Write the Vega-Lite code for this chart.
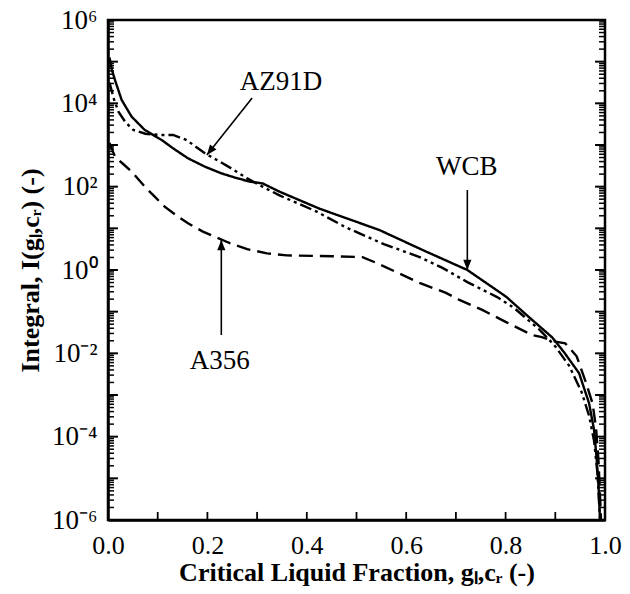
{
  "$schema": "https://vega.github.io/schema/vega-lite/v6.json",
  "width": 497,
  "height": 500,
  "autosize": {"type": "none"},
  "padding": {"left": 108, "top": 20, "right": 25, "bottom": 74},
  "background": "white",
  "config": {
    "view": {"stroke": "black", "strokeWidth": 2.5},
    "font": "Liberation Serif",
    "axis": {"grid": false, "ticks": false, "domainColor": "black", "domainWidth": 2.5}
  },
  "datasets": {
    "curves": [
      {"series": "WCB", "g": 0.003, "I": 125900},
      {"series": "WCB", "g": 0.008, "I": 63100},
      {"series": "WCB", "g": 0.014, "I": 36300},
      {"series": "WCB", "g": 0.0275, "I": 12020},
      {"series": "WCB", "g": 0.0475, "I": 4786},
      {"series": "WCB", "g": 0.074, "I": 2291},
      {"series": "WCB", "g": 0.108, "I": 1318},
      {"series": "WCB", "g": 0.131, "I": 832},
      {"series": "WCB", "g": 0.161, "I": 479},
      {"series": "WCB", "g": 0.195, "I": 302},
      {"series": "WCB", "g": 0.228, "I": 209},
      {"series": "WCB", "g": 0.255, "I": 166},
      {"series": "WCB", "g": 0.285, "I": 132},
      {"series": "WCB", "g": 0.311, "I": 120},
      {"series": "WCB", "g": 0.345, "I": 75.9},
      {"series": "WCB", "g": 0.426, "I": 29.5},
      {"series": "WCB", "g": 0.546, "I": 9.12},
      {"series": "WCB", "g": 0.633, "I": 3.02},
      {"series": "WCB", "g": 0.723, "I": 1.0},
      {"series": "WCB", "g": 0.801, "I": 0.229},
      {"series": "WCB", "g": 0.847, "I": 0.0741},
      {"series": "WCB", "g": 0.894, "I": 0.024},
      {"series": "WCB", "g": 0.918, "I": 0.01047},
      {"series": "WCB", "g": 0.948, "I": 0.00331},
      {"series": "WCB", "g": 0.968, "I": 0.000631},
      {"series": "WCB", "g": 0.978, "I": 0.000145},
      {"series": "WCB", "g": 0.983, "I": 3.16e-5},
      {"series": "WCB", "g": 0.987, "I": 6.31e-6},
      {"series": "WCB", "g": 0.99, "I": 1e-6},

      {"series": "AZ91D", "g": 0.003, "I": 31600},
      {"series": "AZ91D", "g": 0.012, "I": 12590},
      {"series": "AZ91D", "g": 0.021, "I": 6310},
      {"series": "AZ91D", "g": 0.035, "I": 3548},
      {"series": "AZ91D", "g": 0.051, "I": 2291},
      {"series": "AZ91D", "g": 0.075, "I": 1862},
      {"series": "AZ91D", "g": 0.104, "I": 1738},
      {"series": "AZ91D", "g": 0.131, "I": 1738},
      {"series": "AZ91D", "g": 0.158, "I": 1318},
      {"series": "AZ91D", "g": 0.195, "I": 631},
      {"series": "AZ91D", "g": 0.225, "I": 398},
      {"series": "AZ91D", "g": 0.248, "I": 275},
      {"series": "AZ91D", "g": 0.28, "I": 158},
      {"series": "AZ91D", "g": 0.311, "I": 100},
      {"series": "AZ91D", "g": 0.345, "I": 61.7},
      {"series": "AZ91D", "g": 0.386, "I": 38.0},
      {"series": "AZ91D", "g": 0.42, "I": 25.1},
      {"series": "AZ91D", "g": 0.479, "I": 10.5},
      {"series": "AZ91D", "g": 0.555, "I": 4.17},
      {"series": "AZ91D", "g": 0.627, "I": 2.04},
      {"series": "AZ91D", "g": 0.673, "I": 1.122},
      {"series": "AZ91D", "g": 0.723, "I": 0.513},
      {"series": "AZ91D", "g": 0.783, "I": 0.224},
      {"series": "AZ91D", "g": 0.817, "I": 0.123},
      {"series": "AZ91D", "g": 0.867, "I": 0.038},
      {"series": "AZ91D", "g": 0.898, "I": 0.0158},
      {"series": "AZ91D", "g": 0.928, "I": 0.00501},
      {"series": "AZ91D", "g": 0.953, "I": 0.00117},
      {"series": "AZ91D", "g": 0.968, "I": 0.000316},
      {"series": "AZ91D", "g": 0.978, "I": 7.94e-5},
      {"series": "AZ91D", "g": 0.985, "I": 1.26e-5},
      {"series": "AZ91D", "g": 0.99, "I": 1e-6},

      {"series": "A356", "g": 0.003, "I": 1122},
      {"series": "A356", "g": 0.014, "I": 525},
      {"series": "A356", "g": 0.03, "I": 355},
      {"series": "A356", "g": 0.05, "I": 214},
      {"series": "A356", "g": 0.074, "I": 100},
      {"series": "A356", "g": 0.094, "I": 57.5},
      {"series": "A356", "g": 0.114, "I": 33.1},
      {"series": "A356", "g": 0.141, "I": 19.05},
      {"series": "A356", "g": 0.161, "I": 13.2},
      {"series": "A356", "g": 0.191, "I": 8.32},
      {"series": "A356", "g": 0.215, "I": 6.31},
      {"series": "A356", "g": 0.242, "I": 4.57},
      {"series": "A356", "g": 0.28, "I": 3.16},
      {"series": "A356", "g": 0.32, "I": 2.51},
      {"series": "A356", "g": 0.36, "I": 2.24},
      {"series": "A356", "g": 0.45, "I": 2.14},
      {"series": "A356", "g": 0.512, "I": 2.04},
      {"series": "A356", "g": 0.54, "I": 1.48},
      {"series": "A356", "g": 0.58, "I": 0.891},
      {"series": "A356", "g": 0.627, "I": 0.49},
      {"series": "A356", "g": 0.68, "I": 0.282},
      {"series": "A356", "g": 0.707, "I": 0.191},
      {"series": "A356", "g": 0.753, "I": 0.11},
      {"series": "A356", "g": 0.801, "I": 0.0562},
      {"series": "A356", "g": 0.853, "I": 0.0275},
      {"series": "A356", "g": 0.873, "I": 0.0245},
      {"series": "A356", "g": 0.9, "I": 0.0191},
      {"series": "A356", "g": 0.92, "I": 0.0174},
      {"series": "A356", "g": 0.943, "I": 0.00851},
      {"series": "A356", "g": 0.961, "I": 0.00209},
      {"series": "A356", "g": 0.975, "I": 0.000631},
      {"series": "A356", "g": 0.982, "I": 0.000158},
      {"series": "A356", "g": 0.987, "I": 2.51e-5},
      {"series": "A356", "g": 0.99, "I": 3.98e-6},
      {"series": "A356", "g": 0.992, "I": 1e-6}
    ],
    "labels": [
      {"label": "AZ91D", "g": 0.348, "I": 32400},
      {"label": "WCB", "g": 0.722, "I": 295},
      {"label": "A356", "g": 0.225, "I": 0.0066}
    ],
    "arrows": [
      {"label": "AZ91D", "g0": 0.29, "I0": 13490, "g1": 0.199, "I1": 575},
      {"label": "WCB", "g0": 0.723, "I0": 83.2, "g1": 0.723, "I1": 1.0},
      {"label": "A356", "g0": 0.228, "I0": 0.0275, "g1": 0.228, "I1": 5.25}
    ],
    "decadeTicks": [
      {"t": 1e-5}, {"t": 1e-4}, {"t": 1e-3}, {"t": 1e-2}, {"t": 1e-1}, {"t": 1},
      {"t": 10}, {"t": 100}, {"t": 1000}, {"t": 1e4}, {"t": 1e5}
    ],
    "minorTicks": [
      {"t": 2e-6}, {"t": 3e-6}, {"t": 4e-6}, {"t": 5e-6}, {"t": 6e-6}, {"t": 7e-6}, {"t": 8e-6}, {"t": 9e-6},
      {"t": 2e-5}, {"t": 3e-5}, {"t": 4e-5}, {"t": 5e-5}, {"t": 6e-5}, {"t": 7e-5}, {"t": 8e-5}, {"t": 9e-5},
      {"t": 2e-4}, {"t": 3e-4}, {"t": 4e-4}, {"t": 5e-4}, {"t": 6e-4}, {"t": 7e-4}, {"t": 8e-4}, {"t": 9e-4},
      {"t": 2e-3}, {"t": 3e-3}, {"t": 4e-3}, {"t": 5e-3}, {"t": 6e-3}, {"t": 7e-3}, {"t": 8e-3}, {"t": 9e-3},
      {"t": 2e-2}, {"t": 3e-2}, {"t": 4e-2}, {"t": 5e-2}, {"t": 6e-2}, {"t": 7e-2}, {"t": 8e-2}, {"t": 9e-2},
      {"t": 0.2}, {"t": 0.3}, {"t": 0.4}, {"t": 0.5}, {"t": 0.6}, {"t": 0.7}, {"t": 0.8}, {"t": 0.9},
      {"t": 2}, {"t": 3}, {"t": 4}, {"t": 5}, {"t": 6}, {"t": 7}, {"t": 8}, {"t": 9},
      {"t": 20}, {"t": 30}, {"t": 40}, {"t": 50}, {"t": 60}, {"t": 70}, {"t": 80}, {"t": 90},
      {"t": 200}, {"t": 300}, {"t": 400}, {"t": 500}, {"t": 600}, {"t": 700}, {"t": 800}, {"t": 900},
      {"t": 2000}, {"t": 3000}, {"t": 4000}, {"t": 5000}, {"t": 6000}, {"t": 7000}, {"t": 8000}, {"t": 9000},
      {"t": 2e4}, {"t": 3e4}, {"t": 4e4}, {"t": 5e4}, {"t": 6e4}, {"t": 7e4}, {"t": 8e4}, {"t": 9e4},
      {"t": 2e5}, {"t": 3e5}, {"t": 4e5}, {"t": 5e5}, {"t": 6e5}, {"t": 7e5}, {"t": 8e5}, {"t": 9e5}
    ],
    "xTicks": [
      {"t": 0.1}, {"t": 0.2}, {"t": 0.3}, {"t": 0.4}, {"t": 0.5}, {"t": 0.6}, {"t": 0.7}, {"t": 0.8}, {"t": 0.9}
    ]
  },
  "resolve": {"axis": {"y": "independent", "x": "shared"}},
  "layer": [
    {
      "data": {"name": "curves"},
      "mark": {"type": "line", "color": "black", "strokeWidth": 2.4, "clip": true},
      "encoding": {
        "x": {
          "field": "g", "type": "quantitative",
          "scale": {"domain": [0, 1], "nice": false, "zero": false},
          "axis": {
            "orient": "bottom",
            "values": [0, 0.2, 0.4, 0.6, 0.8, 1],
            "format": ".1f",
            "labelFlush": false,
            "labelOverlap": false,
            "labelFont": "Liberation Serif",
            "labelFontSize": 26,
            "labelColor": "black",
            "labelPadding": 12,
            "title": "Critical Liquid Fraction, gₗ,cᵣ (-)",
            "titleFont": "Liberation Serif",
            "titleFontSize": 26,
            "titleFontWeight": "bold",
            "titleColor": "black",
            "titlePadding": 1
          }
        },
        "y": {
          "field": "I", "type": "quantitative",
          "scale": {"type": "log", "domain": [1e-6, 1e6], "nice": false},
          "axis": {
            "orient": "left",
            "values": [1e-6, 1e-4, 1e-2, 1, 100, 10000, 1000000],
            "labelExpr": "round(log(datum.value) / LN10) == 6 ? '10⁶' : round(log(datum.value) / LN10) == 4 ? '10⁴' : round(log(datum.value) / LN10) == 2 ? '10²' : round(log(datum.value) / LN10) == 0 ? '10⁰' : round(log(datum.value) / LN10) == -2 ? '10⁻²' : round(log(datum.value) / LN10) == -4 ? '10⁻⁴' : '10⁻⁶'",
            "labelOverlap": false,
            "labelFlush": false,
            "labelFont": "Liberation Serif",
            "labelFontSize": 27,
            "labelColor": "black",
            "labelPadding": 11,
            "title": "Integral, I(gₗ,cᵣ) (-)",
            "titleFont": "Liberation Serif",
            "titleFontSize": 26,
            "titleFontWeight": "bold",
            "titleColor": "black",
            "titlePadding": 8
          }
        },
        "detail": {"field": "series"},
        "strokeDash": {
          "field": "series", "type": "nominal",
          "scale": {"domain": ["WCB", "AZ91D", "A356"], "range": [[1, 0], [12, 4, 3, 4, 3, 4], [14, 7]]},
          "legend": null
        }
      }
    },
    {
      "data": {"name": "labels"},
      "mark": {"type": "text", "font": "Liberation Serif", "fontSize": 27, "color": "black", "align": "center", "baseline": "middle"},
      "encoding": {
        "x": {"field": "g", "type": "quantitative", "scale": {"domain": [0, 1], "nice": false, "zero": false}},
        "y": {"field": "I", "type": "quantitative", "scale": {"type": "log", "domain": [1e-6, 1e6], "nice": false}, "axis": null},
        "text": {"field": "label"}
      }
    },
    {
      "data": {"name": "arrows"},
      "mark": {"type": "rule", "color": "black", "strokeWidth": 1.6},
      "encoding": {
        "x": {"field": "g0", "type": "quantitative", "scale": {"domain": [0, 1], "nice": false, "zero": false}},
        "y": {"field": "I0", "type": "quantitative", "scale": {"type": "log", "domain": [1e-6, 1e6], "nice": false}, "axis": null},
        "x2": {"field": "g1"},
        "y2": {"field": "I1"}
      }
    },
    {
      "data": {"name": "arrows"},
      "mark": {"type": "point", "shape": "M0,0L-0.4,1L0.4,1Z", "filled": true, "color": "black", "opacity": 1, "size": 420, "strokeWidth": 0},
      "encoding": {
        "x": {"field": "g1", "type": "quantitative", "scale": {"domain": [0, 1], "nice": false, "zero": false}},
        "y": {"field": "I1", "type": "quantitative", "scale": {"type": "log", "domain": [1e-6, 1e6], "nice": false}, "axis": null},
        "angle": {
          "condition": [
            {"test": "datum.label === 'AZ91D'", "value": 218},
            {"test": "datum.label === 'A356'", "value": 0}
          ],
          "value": 180
        }
      }
    },
    {
      "data": {"name": "minorTicks"},
      "mark": {"type": "rule", "color": "black", "strokeWidth": 1.5},
      "encoding": {
        "x": {"datum": 0, "type": "quantitative", "scale": {"domain": [0, 1], "nice": false, "zero": false}},
        "x2": {"datum": 0.012},
        "y": {"field": "t", "type": "quantitative", "scale": {"type": "log", "domain": [1e-6, 1e6], "nice": false}, "axis": null}
      }
    },
    {
      "data": {"name": "minorTicks"},
      "mark": {"type": "rule", "color": "black", "strokeWidth": 1.5},
      "encoding": {
        "x": {"datum": 0.988, "type": "quantitative", "scale": {"domain": [0, 1], "nice": false, "zero": false}},
        "x2": {"datum": 1},
        "y": {"field": "t", "type": "quantitative", "scale": {"type": "log", "domain": [1e-6, 1e6], "nice": false}, "axis": null}
      }
    },
    {
      "data": {"name": "decadeTicks"},
      "mark": {"type": "rule", "color": "black", "strokeWidth": 2},
      "encoding": {
        "x": {"datum": 0, "type": "quantitative", "scale": {"domain": [0, 1], "nice": false, "zero": false}},
        "x2": {"datum": 0.02},
        "y": {"field": "t", "type": "quantitative", "scale": {"type": "log", "domain": [1e-6, 1e6], "nice": false}, "axis": null}
      }
    },
    {
      "data": {"name": "decadeTicks"},
      "mark": {"type": "rule", "color": "black", "strokeWidth": 2},
      "encoding": {
        "x": {"datum": 0.98, "type": "quantitative", "scale": {"domain": [0, 1], "nice": false, "zero": false}},
        "x2": {"datum": 1},
        "y": {"field": "t", "type": "quantitative", "scale": {"type": "log", "domain": [1e-6, 1e6], "nice": false}, "axis": null}
      }
    },
    {
      "data": {"name": "xTicks"},
      "mark": {"type": "rule", "color": "black", "strokeWidth": 1.8},
      "encoding": {
        "x": {"field": "t", "type": "quantitative", "scale": {"domain": [0, 1], "nice": false, "zero": false}},
        "y": {"datum": 1e-6, "type": "quantitative", "scale": {"type": "log", "domain": [1e-6, 1e6], "nice": false}, "axis": null},
        "y2": {"datum": 1.56e-6}
      }
    }
  ]
}
